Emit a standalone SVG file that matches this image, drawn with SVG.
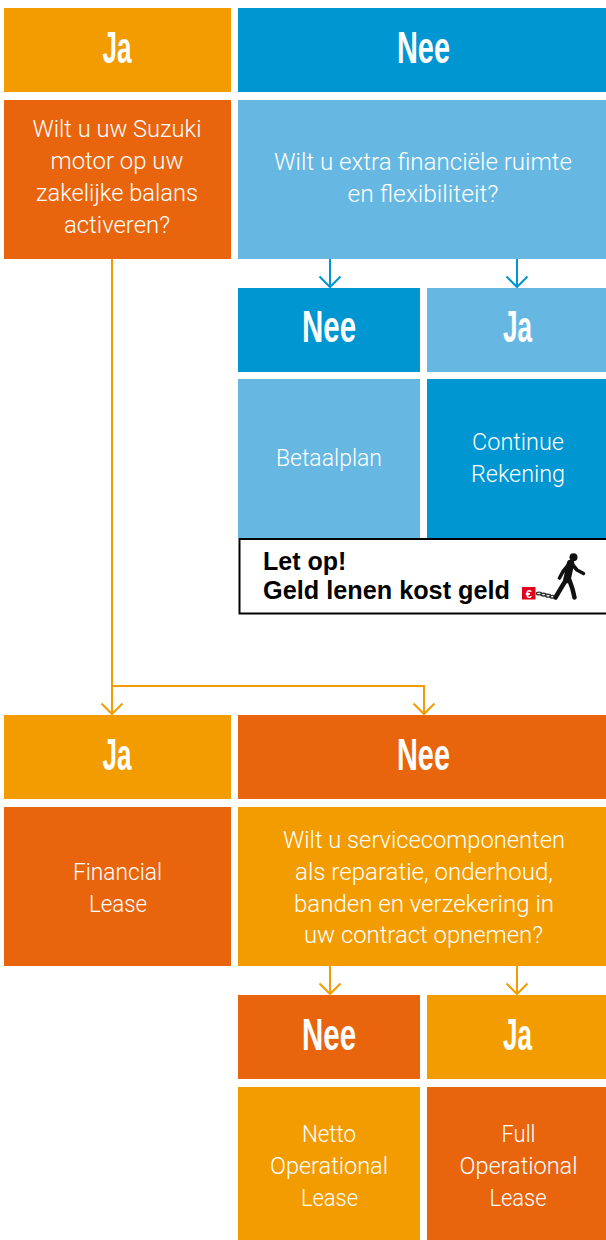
<svg xmlns="http://www.w3.org/2000/svg" width="606" height="1240" viewBox="0 0 606 1240">
<defs>
<style>
.oy{fill:#F39C00}
.do{fill:#E8650E}
.db{fill:#0096D2}
.lb{fill:#66B8E3}
.hdr{font-family:"Liberation Sans",Arial,sans-serif;font-weight:bold;font-size:44px;fill:#fff;text-anchor:middle}
.txt{font-family:Roboto,"Liberation Sans",sans-serif;font-weight:300;font-size:24px;fill:#fff;text-anchor:middle}
.warn{font-family:"Liberation Sans",Arial,sans-serif;font-weight:bold;font-size:25px;fill:#000}
.cb{fill:none;stroke:#0096D2;stroke-width:2}
.co{fill:none;stroke:#F39C00;stroke-width:2}
</style>
</defs>
<rect width="606" height="1240" fill="#fff"/>

<g id="hdr-ja-1"><rect class="oy" x="4" y="8" width="227" height="84"/><text class="hdr" x="117" y="62.5" textLength="29" lengthAdjust="spacingAndGlyphs">Ja</text></g>
<g id="hdr-nee-1"><rect class="db" x="238" y="8" width="368" height="84"/><text class="hdr" x="423.5" y="62.5" textLength="53" lengthAdjust="spacingAndGlyphs">Nee</text></g>

<g id="q-balans"><rect class="do" x="4" y="100" width="227" height="159"/>
<text class="txt" x="117" y="137" textLength="169" lengthAdjust="spacingAndGlyphs">Wilt u uw Suzuki</text>
<text class="txt" x="117" y="169" textLength="133" lengthAdjust="spacingAndGlyphs">motor op uw</text>
<text class="txt" x="117" y="201" textLength="162" lengthAdjust="spacingAndGlyphs">zakelijke balans</text>
<text class="txt" x="117" y="233" textLength="106" lengthAdjust="spacingAndGlyphs">activeren?</text></g>

<g id="q-ruimte"><rect class="lb" x="238" y="100" width="368" height="159"/>
<text class="txt" x="423" y="170" textLength="298" lengthAdjust="spacingAndGlyphs">Wilt u extra financiële ruimte</text>
<text class="txt" x="423" y="202" textLength="151" lengthAdjust="spacingAndGlyphs">en flexibiliteit?</text></g>

<g id="hdr-nee-2"><rect class="db" x="238" y="288" width="182" height="84"/><text class="hdr" x="329" y="341.5" textLength="54" lengthAdjust="spacingAndGlyphs">Nee</text></g>
<g id="hdr-ja-2"><rect class="lb" x="427" y="288" width="179" height="84"/><text class="hdr" x="517.5" y="341.5" textLength="29" lengthAdjust="spacingAndGlyphs">Ja</text></g>

<g id="betaalplan"><rect class="lb" x="238" y="379" width="182" height="159"/><text class="txt" x="329" y="466" textLength="106" lengthAdjust="spacingAndGlyphs">Betaalplan</text></g>
<g id="continue-rekening"><rect class="db" x="427" y="379" width="179" height="159"/>
<text class="txt" x="518" y="450" textLength="92" lengthAdjust="spacingAndGlyphs">Continue</text>
<text class="txt" x="518" y="482" textLength="94" lengthAdjust="spacingAndGlyphs">Rekening</text></g>

<g id="let-op"><rect x="239.5" y="539" width="368" height="74.5" fill="#fff" stroke="#000" stroke-width="2"/>
<text class="warn" x="263" y="570">Let op!</text>
<text class="warn" x="263" y="599" textLength="247" lengthAdjust="spacingAndGlyphs">Geld lenen kost geld</text>
<rect x="522" y="587" width="13.5" height="12.5" fill="#E2001A"/>
<text x="528.7" y="597.5" font-family="Liberation Sans,Arial,sans-serif" font-weight="bold" font-size="11" fill="#fff" text-anchor="middle">€</text>
<g fill="none" stroke="#333" stroke-width="1.4">
<ellipse cx="539" cy="593.5" rx="2.6" ry="1.4"/><ellipse cx="543.5" cy="594.6" rx="2.6" ry="1.4"/><ellipse cx="548" cy="595.7" rx="2.6" ry="1.4"/><ellipse cx="552.3" cy="596.7" rx="2.4" ry="1.3"/></g>
<g fill="none" stroke="#111" stroke-linecap="round" stroke-linejoin="round">
<circle cx="573.5" cy="557.3" r="4" fill="#111" stroke="none"/>
<path d="M570.5 563.5 L567 579.5" stroke-width="7.5"/>
<path d="M572 564 L577 570 L583.5 573.5" stroke-width="3.6"/>
<path d="M568 565.5 L563 571.5 L559.5 578" stroke-width="3.6"/>
<path d="M566.5 579 L560.5 589 L555.5 597.5" stroke-width="4.5"/>
<path d="M569 579 L572.5 589 L574.5 597.5" stroke-width="4.5"/>
</g></g>

<g id="hdr-ja-3"><rect class="oy" x="4" y="715" width="227" height="84"/><text class="hdr" x="117" y="769.5" textLength="29" lengthAdjust="spacingAndGlyphs">Ja</text></g>
<g id="hdr-nee-3"><rect class="do" x="238" y="715" width="368" height="84"/><text class="hdr" x="423.5" y="769.5" textLength="53" lengthAdjust="spacingAndGlyphs">Nee</text></g>

<g id="financial-lease"><rect class="do" x="4" y="807" width="227" height="159"/>
<text class="txt" x="117.5" y="880" textLength="89" lengthAdjust="spacingAndGlyphs">Financial</text>
<text class="txt" x="118" y="912" textLength="58" lengthAdjust="spacingAndGlyphs">Lease</text></g>

<g id="q-service"><rect class="oy" x="238" y="807" width="368" height="159"/>
<text class="txt" x="424" y="848" textLength="282" lengthAdjust="spacingAndGlyphs">Wilt u servicecomponenten</text>
<text class="txt" x="424" y="880" textLength="258" lengthAdjust="spacingAndGlyphs">als reparatie, onderhoud,</text>
<text class="txt" x="424" y="912" textLength="260" lengthAdjust="spacingAndGlyphs">banden en verzekering in</text>
<text class="txt" x="423.5" y="943" textLength="239" lengthAdjust="spacingAndGlyphs">uw contract opnemen?</text></g>

<g id="hdr-nee-4"><rect class="do" x="238" y="995" width="182" height="84"/><text class="hdr" x="329" y="1049.5" textLength="54" lengthAdjust="spacingAndGlyphs">Nee</text></g>
<g id="hdr-ja-4"><rect class="oy" x="427" y="995" width="179" height="84"/><text class="hdr" x="517.5" y="1049.5" textLength="29" lengthAdjust="spacingAndGlyphs">Ja</text></g>

<g id="netto-operational-lease"><rect class="oy" x="238" y="1087" width="182" height="153"/>
<text class="txt" x="329" y="1142" textLength="54" lengthAdjust="spacingAndGlyphs">Netto</text>
<text class="txt" x="329" y="1174" textLength="118" lengthAdjust="spacingAndGlyphs">Operational</text>
<text class="txt" x="329.5" y="1206" textLength="57" lengthAdjust="spacingAndGlyphs">Lease</text></g>
<g id="full-operational-lease"><rect class="do" x="427" y="1087" width="179" height="153"/>
<text class="txt" x="518.5" y="1142" textLength="34" lengthAdjust="spacingAndGlyphs">Full</text>
<text class="txt" x="518.5" y="1174" textLength="118" lengthAdjust="spacingAndGlyphs">Operational</text>
<text class="txt" x="518" y="1206" textLength="57" lengthAdjust="spacingAndGlyphs">Lease</text></g>

<g id="connectors">
<path class="cb" d="M330 259 V287 M319.5 276.5 L330 287 L340.5 276.5"/>
<path class="cb" d="M517 259 V287 M506.5 276.5 L517 287 L527.5 276.5"/>
<path class="co" d="M112 259 V686 H424 V714"/>
<path class="co" d="M112 686 V714 M101.5 703.5 L112 714 L122.5 703.5"/>
<path class="co" d="M413.5 703.5 L424 714 L434.5 703.5"/>
<path class="co" d="M330 966 V994 M319.5 983.5 L330 994 L340.5 983.5"/>
<path class="co" d="M517 966 V994 M506.5 983.5 L517 994 L527.5 983.5"/>
</g>
</svg>
